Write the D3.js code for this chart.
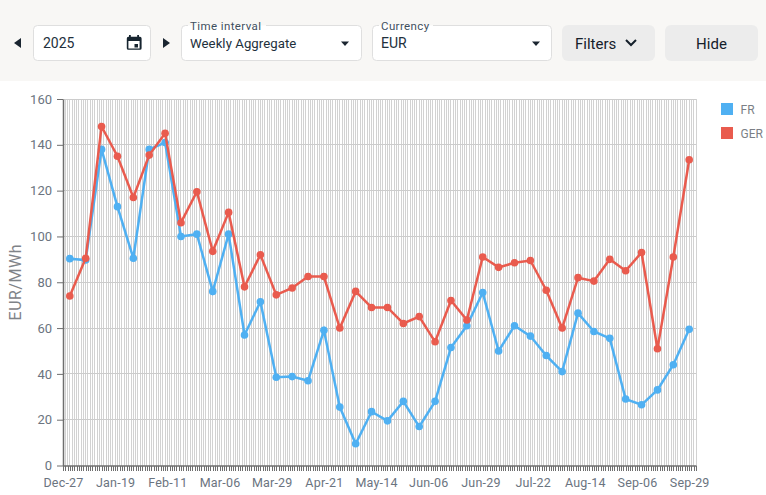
<!DOCTYPE html>
<html>
<head>
<meta charset="utf-8">
<script src="https://cdn.jsdelivr.net/npm/d3@7"></script>
<style>
  html, body { margin: 0; padding: 0; background: #fff; }
  svg { display: block; font-family: Roboto, sans-serif; }
</style>
</head>
<body>
<div id="chart"></div>
<script>
// Weekly values
const weeks = ['2024-12-30','2025-01-06','2025-01-13','2025-01-20','2025-01-27','2025-02-03','2025-02-10','2025-02-17','2025-02-24','2025-03-03',
  '2025-03-10','2025-03-17','2025-03-24','2025-03-31','2025-04-07','2025-04-14','2025-04-21','2025-04-28','2025-05-05','2025-05-12',
  '2025-05-19','2025-05-26','2025-06-02','2025-06-09','2025-06-16','2025-06-23','2025-06-30','2025-07-07','2025-07-14','2025-07-21',
  '2025-07-28','2025-08-04','2025-08-11','2025-08-18','2025-08-25','2025-09-01','2025-09-08','2025-09-15','2025-09-22','2025-09-29'];
const frValues = [90.3,89.7,138,113,90.5,138,141,100,101,76,101,57,71.5,38.5,38.8,37,59,25.5,9.5,23.5,19.5,28,17,28,51.5,61,75.5,50,61,56.5,48,41,66.5,58.5,55.5,29,26.5,33,44,59.5];
const gerValues = [74,90.5,148,135,117,135.5,145,106,119.5,93.5,110.5,78,92,74.5,77.5,82.5,82.5,60,76,69,69,62,65,54,72,63.5,91,86.5,88.5,89.5,76.5,60,82,80.5,90,85,93,51,91,133.5];
const xLabelDates = ['2024-12-27','2025-01-19','2025-02-11','2025-03-06','2025-03-29','2025-04-21','2025-05-14','2025-06-06','2025-06-29','2025-07-22','2025-08-14','2025-09-06','2025-09-29'];
const yTicks = [0,20,40,60,80,100,120,140,160];
const seriesNames = ['FR','GER'];
const seriesColors = ['#4fb0f2','#e95b4e'];

const width = 766, height = 495;
const plot = {left: 63, right: 696, top: 99, bottom: 465.5};
const parse = d3.utcParse('%Y-%m-%d');
const fmt = d3.utcFormat('%b-%d');

const svg = d3.select('#chart').append('svg')
    .attr('width', width)
    .attr('height', height);

// Toolbar
svg.append('rect').attr('width', width).attr('height', 81).attr('fill', '#f8f7f5');

function box(x, w) {
    svg.append('rect')
        .attr('x', x + 0.5).attr('y', 25.5).attr('width', w).attr('height', 35).attr('rx', 4)
        .attr('fill', '#fff').attr('stroke', '#dfdfdf');
}
function label(x, y, text, size, fill, anchor) {
    return svg.append('text')
        .attr('x', x).attr('y', y).attr('font-size', size).attr('fill', fill)
        .attr('text-anchor', anchor || 'start').text(text);
}
const textDark = '#22303c';

svg.append('path').attr('d', 'M21 38V48L14 43Z').attr('fill', '#1a2530');
svg.append('path').attr('d', 'M163 38V48L170 43Z').attr('fill', '#1a2530');

box(33, 117);
label(43, 48, '2025', 14, textDark);
svg.append('path').attr('fill', '#16242f').attr('fill-rule', 'evenodd')
    .attr('d', 'M129 35h1.8v1.8h6.4V35h1.8v1.8h1a1.6 1.6 0 0 1 1.6 1.6v9.8a1.6 1.6 0 0 1-1.6 1.6h-11.6a1.6 1.6 0 0 1-1.6-1.6v-9.8a1.6 1.6 0 0 1 1.6-1.6h.6z M128.4 41v7.6h11.2V41z M134.5 44h3.5v3.5h-3.5z');

box(181, 180);
svg.append('rect').attr('x', 188).attr('y', 22).attr('width', 78).attr('height', 6).attr('fill', '#fff');
svg.append('rect').attr('x', 188).attr('y', 20).attr('width', 78).attr('height', 5.5).attr('fill', '#f8f7f5');
label(190, 30, 'Time interval', 11.5, '#3f4f5e').attr('letter-spacing', '0.4px');
label(190, 48, 'Weekly Aggregate', 13.2, textDark).attr('letter-spacing', '0.05px');
svg.append('path').attr('d', 'M341 41.5h8l-4 4.5z').attr('fill', '#1a2530');

box(372, 179);
svg.append('rect').attr('x', 379).attr('y', 22).attr('width', 54).attr('height', 6).attr('fill', '#fff');
svg.append('rect').attr('x', 379).attr('y', 20).attr('width', 54).attr('height', 5.5).attr('fill', '#f8f7f5');
label(381, 30, 'Currency', 11.5, '#3f4f5e').attr('letter-spacing', '0.4px');
label(381, 48, 'EUR', 14, textDark);
svg.append('path').attr('d', 'M532 41.5h8l-4 4.5z').attr('fill', '#1a2530');

svg.append('rect').attr('x', 562).attr('y', 25).attr('width', 93).attr('height', 36).attr('rx', 6).attr('fill', '#ececec');
label(575, 49, 'Filters', 15, '#15202b');
svg.append('path').attr('d', 'M626 40l5 5 5-5').attr('fill', 'none').attr('stroke', '#15202b').attr('stroke-width', 2);
svg.append('rect').attr('x', 665).attr('y', 25).attr('width', 93).attr('height', 36).attr('rx', 6).attr('fill', '#ececec');
label(711.5, 49, 'Hide', 15, '#15202b', 'middle');

// Scales
const x = d3.scaleUtc()
    .domain([parse('2024-12-27'), parse('2025-10-02')])
    .range([plot.left, plot.right]);
const y = d3.scaleLinear()
    .domain([0, 160])
    .range([plot.bottom, plot.top]);

const days = d3.utcDay.range(parse('2024-12-27'), d3.utcDay.offset(parse('2025-10-02'), 1));
const labelled = new Set(xLabelDates);
const dayKey = d3.utcFormat('%Y-%m-%d');

// Grid
svg.append('g').attr('shape-rendering', 'crispEdges').selectAll('line').data(days).join('line')
    .attr('x1', d => x(d)).attr('x2', d => x(d))
    .attr('y1', plot.top).attr('y2', plot.bottom)
    .attr('stroke', '#d2d2d2').attr('stroke-width', 1);
svg.append('g').attr('shape-rendering', 'crispEdges').selectAll('line').data(yTicks.slice(1)).join('line')
    .attr('x1', plot.left).attr('x2', plot.right)
    .attr('y1', d => y(d)).attr('y2', d => y(d))
    .attr('stroke', '#cccccc').attr('stroke-width', 1);

// Axes
const xAxis = svg.append('g')
    .attr('transform', `translate(0,${plot.bottom})`)
    .call(d3.axisBottom(x)
        .tickValues(days)
        .tickSize(5)
        .tickSizeOuter(0)
        .tickFormat(d => labelled.has(dayKey(d)) ? fmt(d) : ''));
xAxis.select('.domain').attr('stroke', '#6e6e6e').attr('stroke-width', 1.5);
xAxis.selectAll('.tick line').attr('stroke', '#6e6e6e').attr('shape-rendering', 'crispEdges');
xAxis.selectAll('.tick text').attr('y', 13).attr('font-size', 12.5).attr('fill', '#6b7480').attr('font-family', 'Roboto, sans-serif').attr('letter-spacing', '0.2px');

const yAxis = svg.append('g')
    .attr('transform', `translate(${plot.left},0)`)
    .call(d3.axisLeft(y).tickValues(yTicks).tickSize(6).tickSizeOuter(0));
yAxis.select('.domain').attr('stroke', '#6e6e6e').attr('stroke-width', 1.5);
yAxis.selectAll('.tick line').attr('stroke', '#6e6e6e');
yAxis.selectAll('.tick text').attr('x', -11).attr('font-size', 13).attr('fill', '#6b7480').attr('font-family', 'Roboto, sans-serif');

svg.append('text')
    .attr('transform', `translate(20.5,${(plot.top + plot.bottom) / 2}) rotate(-90)`)
    .attr('text-anchor', 'middle')
    .attr('font-size', 16).attr('fill', '#7f8388').attr('letter-spacing', '0.5px')
    .text('EUR/MWh');

// Series
const dates = weeks.map(parse);
const line = d3.line().x((d, i) => x(dates[i])).y(d => y(d));
[frValues, gerValues].forEach((values, s) => {
    svg.append('path')
        .attr('d', line(values))
        .attr('fill', 'none')
        .attr('stroke', seriesColors[s])
        .attr('stroke-width', 2.5);
    svg.append('g').selectAll('circle').data(values).join('circle')
        .attr('cx', (d, i) => x(dates[i]))
        .attr('cy', d => y(d))
        .attr('r', 3.8)
        .attr('fill', seriesColors[s]);
});

// Legend
seriesNames.forEach((name, i) => {
    svg.append('rect')
        .attr('x', 721).attr('y', 103 + i * 24).attr('width', 12).attr('height', 12)
        .attr('fill', seriesColors[i]);
    label(740.5, 113.5 + i * 24, name, 12, '#7b7f86');
});
</script>
</body>
</html>
